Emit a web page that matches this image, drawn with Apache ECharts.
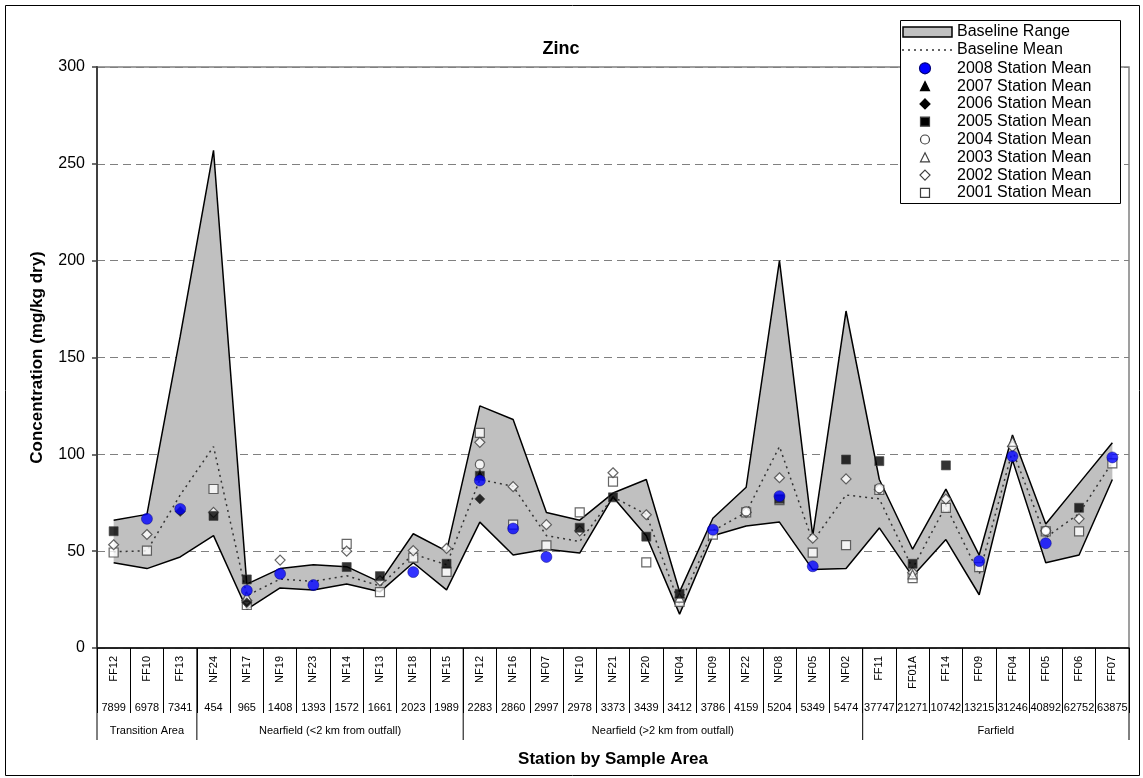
<!DOCTYPE html>
<html>
<head>
<meta charset="utf-8">
<script src="https://cdn.jsdelivr.net/npm/echarts@6/dist/echarts.min.js"></script>
<style>html,body{margin:0;padding:0;background:#fff}#c{width:1143px;height:778px}</style>
</head>
<body>
<div id="c"></div>
<script>
// ---------- DATA ----------
const stations = ['FF12','FF10','FF13','NF24','NF17','NF19','NF23','NF14','NF13','NF18','NF15','NF12','NF16','NF07','NF10','NF21','NF20','NF04','NF09','NF22','NF08','NF05','NF02','FF11','FF01A','FF14','FF09','FF04','FF05','FF06','FF07'];
const sampleIds = ['7899','6978','7341','454','965','1408','1393','1572','1661','2023','1989','2283','2860','2997','2978','3373','3439','3412','3786','4159','5204','5349','5474','37747','21271','10742','13215','31246','40892','62752','63875'];
const groupNames = ['Transition Area','Nearfield (<2 km from outfall)','Nearfield (>2 km from outfall)','Farfield'];
const groupSizes = [3, 8, 12, 8];
const yTicks = [0, 50, 100, 150, 200, 250, 300];

const baselineMax  = [66, 69, 161, 257, 33, 41, 43, 42, 34, 59, 50, 125, 118, 70, 66, 80, 87, 29, 67, 83, 200, 58, 174, 87, 51, 82, 48, 110, 64, 85, 106];
const baselineMin  = [44, 41, 47, 58, 20, 31, 30, 33, 29, 44, 30, 65, 48, 51, 49, 78, 58, 17.5, 58, 63, 65, 40.5, 41, 62, 37, 56, 27.5, 97, 44, 48, 87];
const baselineMean = [49.7, 50.2, 79, 104, 27, 35.6, 34.4, 37.3, 32, 48.5, 43, 87, 83.5, 58, 55, 78, 69, 22.4, 60.5, 70, 104, 55, 79, 77, 41, 73.5, 38, 102, 57, 69.4, 96];

const mean2008 = [null, 66.7, 71.8, null, 29.7, 38.3, 32.5, null, null, 39.2, null, 86.5, 61.7, 47, null, null, null, null, 61.1, null, 78.4, 42.2, null, null, null, null, 44.9, 99, 54.1, null, 98.4];
const mean2007 = [null, null, null, null, null, null, null, null, null, null, null, 90, null, null, null, null, null, null, null, null, null, null, null, null, null, null, null, null, null, null, null];
const mean2006 = [null, null, 70.5, null, 23.4, null, null, null, null, null, null, 77, null, null, null, null, null, null, null, null, null, null, null, null, null, null, null, null, null, null, null];
const mean2005 = [60.3, null, null, 68.2, 35.4, null, null, 41.8, 37.1, null, 43.5, 88.9, null, null, 62.1, 77.8, 57.5, 28, null, null, 77, null, 97.3, 96.5, 43.5, 94.3, null, null, null, 72.4, null];
const mean2004 = [null, null, null, null, null, null, null, null, null, null, null, 94.8, null, null, null, null, null, null, null, 70.5, null, null, null, 82.5, null, null, null, null, 60.5, null, null];
const mean2003 = [null, null, null, null, 26.5, null, null, null, null, null, null, null, null, null, null, null, null, 26, null, null, null, null, null, null, 38, null, null, 106.5, null, null, null];
const mean2002 = [53.3, 58.6, null, 70, 24.5, 45.4, null, 50, 34.7, 50.3, 51.4, 106.2, 83.3, 63.7, 60.5, 90.5, 68.8, null, null, 70, 87.9, 56.7, 87.3, 82, 39, 76.9, null, 104, 60.5, 66.7, null];
const mean2001 = [49.3, 50.3, null, 82.1, 22.2, null, null, 53.8, 28.9, 46.7, 39.3, 111.1, 63.7, 53, 70, 85.9, 44.2, 23.8, 58.5, 70, 76.4, 49.2, 53.1, 81.6, 36.1, 72.4, 41.8, null, 60.2, 60.2, 95.3];

// ---------- CHART ----------
const FONT = '"Liberation Sans", Arial, sans-serif';
const chart = echarts.init(document.getElementById('c'), null, {renderer: 'canvas'});

const openStyle = {color: '#ffffff', borderColor: '#404040', borderWidth: 1.2};
const solidStyle = {color: '#000000', borderColor: '#404040', borderWidth: 0.8};

function scatter(name, data, symbol, size, style) {
  return {type: 'scatter', name, data, symbol, symbolSize: size, itemStyle: style, z: 5, silent: true};
}

const option = {
  animation: false,
  backgroundColor: '#ffffff',
  textStyle: {fontFamily: FONT},
  title: {
    text: 'Zinc', left: 556, top: 35, textAlign: 'center',
    textStyle: {fontFamily: FONT, fontSize: 18, fontWeight: 'bold', color: '#000'}
  },
  grid: {left: 97, right: 14, top: 67, bottom: 130, show: true, borderColor: '#808080', borderWidth: 1.5, backgroundColor: '#fff'},
  xAxis: [
    {
      type: 'category', data: stations, position: 'bottom',
      axisLine: {lineStyle: {color: '#000', width: 1.5}},
      axisTick: {show: true, interval: 0, length: 65, lineStyle: {color: '#000', width: 1}},
      axisLabel: {interval: 0, rotate: 90, fontSize: 11, margin: 8, color: '#000', fontFamily: FONT},
      splitLine: {show: false},
      name: 'Station by Sample Area', nameLocation: 'middle', nameGap: 103,
      nameTextStyle: {fontFamily: FONT, fontSize: 17, fontWeight: 'bold', color: '#000'}
    },
    {
      type: 'category', data: sampleIds, position: 'bottom',
      axisLine: {show: false}, axisTick: {show: false}, splitLine: {show: false},
      axisLabel: {interval: 0, fontSize: 11, margin: 54, color: '#000', fontFamily: FONT}
    }
  ],
  yAxis: {
    type: 'value', min: yTicks[0], max: yTicks[yTicks.length - 1], interval: 50,
    axisLine: {show: true, lineStyle: {color: '#404040', width: 2}},
    axisTick: {show: true, length: 5, lineStyle: {color: '#404040', width: 1.5}},
    axisLabel: {fontSize: 16, margin: 12, color: '#000', fontFamily: FONT},
    splitLine: {show: true, lineStyle: {color: '#808080', width: 1, type: [8, 5]}},
    name: 'Concentration (mg/kg dry)', nameLocation: 'middle', nameGap: 51,
    nameTextStyle: {fontFamily: FONT, fontSize: 17, fontWeight: 'bold', color: '#000'}
  },
  series: [
    {type: 'line', name: 'Baseline Min', data: baselineMin, stack: 'band', symbol: 'none',
     lineStyle: {color: '#000', width: 1.5}, z: 3, silent: true},
    {type: 'line', name: 'Baseline Range', data: baselineMax.map((v, i) => v - baselineMin[i]), stack: 'band', symbol: 'none',
     lineStyle: {color: '#000', width: 1.5}, areaStyle: {color: '#C0C0C0', opacity: 1}, z: 2, silent: true},
    {type: 'line', name: 'Baseline Mean', data: baselineMean, symbol: 'none',
     lineStyle: {color: '#333', width: 1.5, type: [2, 4]}, z: 4, silent: true},
    scatter('2001 Station Mean', mean2001, 'rect', 9, openStyle),
    scatter('2002 Station Mean', mean2002, 'diamond', 10, openStyle),
    scatter('2003 Station Mean', mean2003, 'triangle', 9, openStyle),
    scatter('2004 Station Mean', mean2004, 'circle', 9, openStyle),
    scatter('2005 Station Mean', mean2005, 'rect', 9, solidStyle),
    scatter('2006 Station Mean', mean2006, 'diamond', 10, solidStyle),
    scatter('2007 Station Mean', mean2007, 'triangle', 9, solidStyle),
    scatter('2008 Station Mean', mean2008, 'circle', 11, {color: '#0000FF', borderColor: '#00007a', borderWidth: 0.6})
  ]
};
chart.setOption(option);

// ---------- GROUP ROW + LEGEND (layout graphics) ----------
const x0 = chart.convertToPixel({xAxisIndex: 0}, 0);
const x1 = chart.convertToPixel({xAxisIndex: 0}, 1);
const bw = x1 - x0;
const yAxisPix = chart.convertToPixel({yAxisIndex: 0}, 0);
const boundary = k => x0 + (k - 0.5) * bw;

const g = [];
let k = 0;
g.push({type: 'line', shape: {x1: boundary(0), y1: yAxisPix, x2: boundary(0), y2: 740}, style: {stroke: '#000', lineWidth: 1}, silent: true});
groupSizes.forEach((n, gi) => {
  const a = k, b = k + n;
  g.push({type: 'line', shape: {x1: boundary(b), y1: yAxisPix, x2: boundary(b), y2: 740}, style: {stroke: '#000', lineWidth: 1}, silent: true});
  g.push({type: 'text', x: (boundary(a) + boundary(b)) / 2, y: 731,
    style: {text: groupNames[gi], fontSize: 11, fontFamily: FONT, fill: '#000', align: 'center', verticalAlign: 'middle'}, silent: true});
  k = b;
});

// outer chart border
g.push({type: 'rect', shape: {x: 5.5, y: 5.5, width: 1134, height: 770}, style: {fill: null, stroke: '#000', lineWidth: 1}, silent: true, z: 0});

// legend
const LX = 900, LY = 20;
const leg = [];
leg.push({type: 'rect', shape: {x: LX + 0.5, y: LY + 0.5, width: 220, height: 183}, style: {fill: '#fff', stroke: '#000', lineWidth: 1}});
leg.push({type: 'rect', shape: {x: LX + 3, y: LY + 7, width: 49, height: 10}, style: {fill: '#C0C0C0', stroke: '#000', lineWidth: 1.5}});
leg.push({type: 'text', x: LX + 57, y: LY + 12, style: {text: 'Baseline Range', fontSize: 16, fontFamily: FONT, fill: '#000', verticalAlign: 'middle'}});
leg.push({type: 'line', shape: {x1: LX + 2, y1: LY + 30, x2: LX + 55, y2: LY + 30}, style: {stroke: '#333', lineWidth: 1.5, lineDash: [2, 4]}});
leg.push({type: 'text', x: LX + 57, y: LY + 30, style: {text: 'Baseline Mean', fontSize: 16, fontFamily: FONT, fill: '#000', verticalAlign: 'middle'}});
const legRows = [
  ['2008 Station Mean', 'circle', '#0000FF', '#00007a', 5.5],
  ['2007 Station Mean', 'triangle', '#000', '#000', 4.5],
  ['2006 Station Mean', 'diamond', '#000', '#000', 5],
  ['2005 Station Mean', 'rect', '#000', '#404040', 4.5],
  ['2004 Station Mean', 'circle', '#fff', '#404040', 4.5],
  ['2003 Station Mean', 'triangle', '#fff', '#404040', 4.5],
  ['2002 Station Mean', 'diamond', '#fff', '#404040', 5],
  ['2001 Station Mean', 'rect', '#fff', '#404040', 4.5]
];
legRows.forEach((r, i) => {
  const cy = LY + 48.3 + 17.8 * i, cx = LX + 25;
  const [label, sym, fill, stroke, s] = r;
  const st = {fill, stroke, lineWidth: 1.2};
  if (sym === 'circle') leg.push({type: 'circle', shape: {cx, cy, r: s}, style: st});
  else if (sym === 'rect') leg.push({type: 'rect', shape: {x: cx - s, y: cy - s, width: 2 * s, height: 2 * s}, style: st});
  else if (sym === 'triangle') leg.push({type: 'polygon', shape: {points: [[cx, cy - s], [cx + s, cy + s], [cx - s, cy + s]]}, style: st});
  else leg.push({type: 'polygon', shape: {points: [[cx, cy - s], [cx + s, cy], [cx, cy + s], [cx - s, cy]]}, style: st});
  leg.push({type: 'text', x: LX + 57, y: cy, style: {text: label, fontSize: 16, fontFamily: FONT, fill: '#000', verticalAlign: 'middle'}});
});
g.push({type: 'group', z: 100, silent: true, children: leg});

chart.setOption({graphic: g});
</script>
</body>
</html>
